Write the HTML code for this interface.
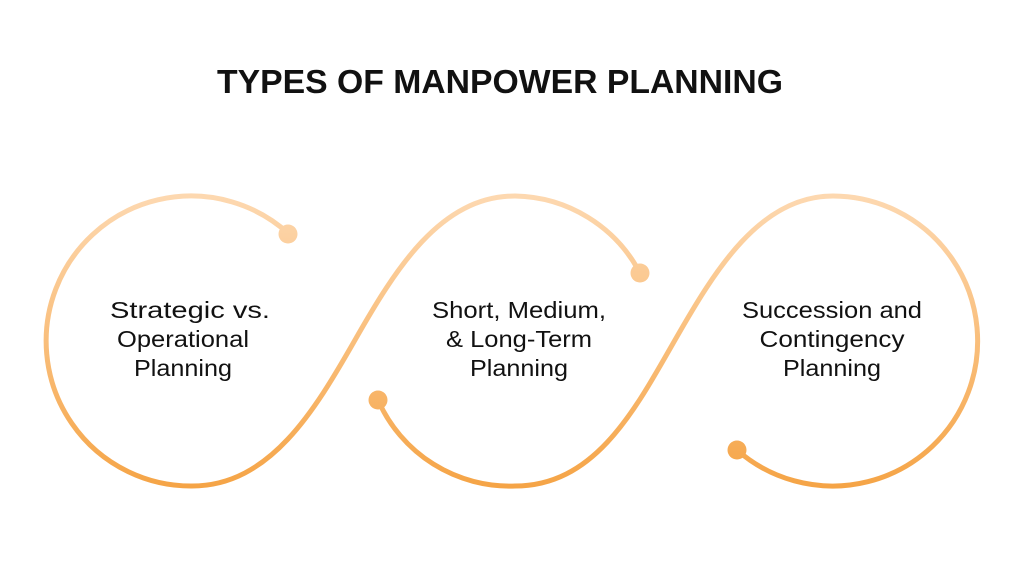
<!DOCTYPE html>
<html><head><meta charset="utf-8"><style>
html,body{margin:0;padding:0;background:#fff;}
svg{display:block;}
text{font-family:"Liberation Sans",sans-serif;fill:#111;}
</style></head><body>
<svg width="1024" height="576" viewBox="0 0 1024 576">
<defs>
<linearGradient id="g" gradientUnits="userSpaceOnUse" x1="0" y1="196" x2="0" y2="488">
<stop offset="0" stop-color="#fdd8b0"/><stop offset="1" stop-color="#f5a446"/>
</linearGradient>
</defs>
<text x="500" y="93" font-size="33" font-weight="bold" text-anchor="middle" textLength="566" lengthAdjust="spacingAndGlyphs">TYPES OF MANPOWER PLANNING</text>
<g fill="none" stroke="url(#g)" stroke-width="5" stroke-linecap="round">
<path d="M289,234 A145,145 0 1 0 192,486 C270,486 315,410 355,340 C395,270 440,196 515,196 A144,144 0 0 1 640,273"/>
<path d="M378,400 A144,144 0 0 0 515,486 C595,486 635,410 675,340 C715,270 760,196 833,196 A145,145 0 1 1 737,450"/>
</g>
<g fill="url(#g)">
<circle cx="288" cy="234" r="9.5"/>
<circle cx="640" cy="273" r="9.5"/>
<circle cx="378" cy="400" r="9.5"/>
<circle cx="737" cy="450" r="9.5"/>
</g>
<g font-size="23" text-anchor="middle" lengthAdjust="spacingAndGlyphs">
<text x="190" y="318" textLength="160" lengthAdjust="spacingAndGlyphs">Strategic vs.</text>
<text x="183" y="347" textLength="132" lengthAdjust="spacingAndGlyphs">Operational</text>
<text x="183" y="376" textLength="98" lengthAdjust="spacingAndGlyphs">Planning</text>
<text x="519" y="318" textLength="174" lengthAdjust="spacingAndGlyphs">Short, Medium,</text>
<text x="519" y="347" textLength="146" lengthAdjust="spacingAndGlyphs">&amp; Long-Term</text>
<text x="519" y="376" textLength="98" lengthAdjust="spacingAndGlyphs">Planning</text>
<text x="832" y="318" textLength="180" lengthAdjust="spacingAndGlyphs">Succession and</text>
<text x="832" y="347" textLength="145" lengthAdjust="spacingAndGlyphs">Contingency</text>
<text x="832" y="376" textLength="98" lengthAdjust="spacingAndGlyphs">Planning</text>
</g>
</svg>
</body></html>
